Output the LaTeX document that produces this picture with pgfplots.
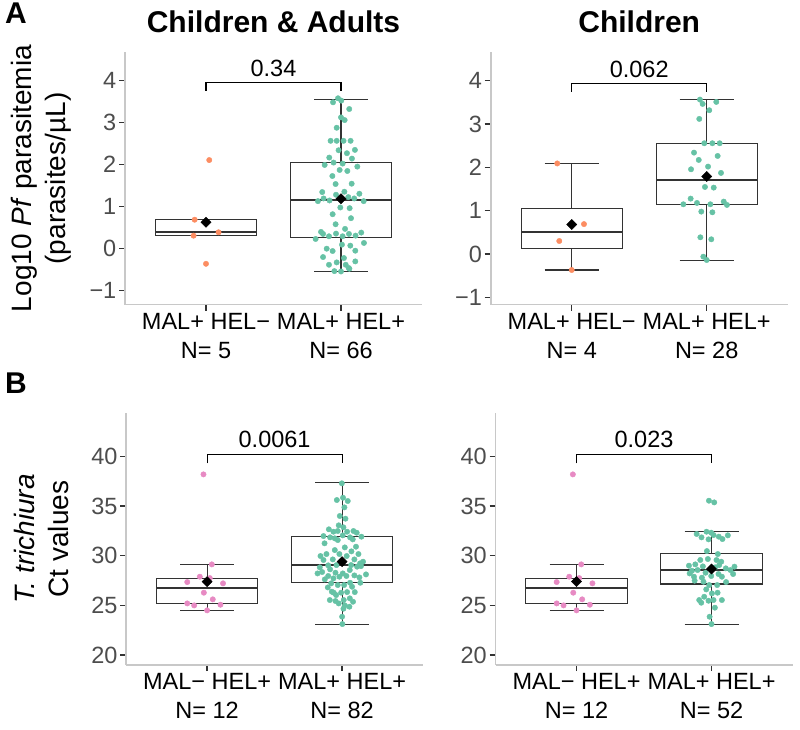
\documentclass[border=0pt]{standalone}
\usepackage{pgfplots}
\pgfplotsset{compat=1.18}
\usepgfplotslibrary{statistics}
\usepackage{fontspec}
\setmainfont{Liberation Sans}
\definecolor{orangeC}{HTML}{FC8D62}
\definecolor{greenC}{HTML}{66C2A5}
\definecolor{pinkC}{HTML}{E78AC3}
\definecolor{axisgrey}{HTML}{C8C8C8}
\definecolor{boxcol}{HTML}{333333}
\definecolor{ticktxt}{HTML}{4D4D4D}
\pgfplotsset{
  panel/.style={
    scale only axis, width=297pt, height=252pt, xmin=0.4, xmax=2.6,
    axis x line*=bottom, axis y line*=left,
    axis line style={-, axisgrey, line width=1.8pt},
    tick style={boxcol, line width=1.3pt}, major tick length=6pt, tick align=outside,
    xtick={1,2}, clip=false,
    /pgf/number format/assume math mode=true,
    xticklabel style={font=\fontsize{23.5}{29}\selectfont, align=center, text=black, inner sep=2.5pt},
    yticklabel style={font=\fontsize{23.5}{26}\selectfont, text=ticktxt, inner sep=2.5pt},
    boxplot/draw direction=y,
    boxplot/every median/.style={line width=2pt},
  },
  bx/.style={draw=boxcol, fill=white, line width=1.1pt, solid},
  pts/.style={only marks, mark=*, mark size=2.7pt, color=#1, mark options={draw=none, fill=#1}},
  meanpt/.style={only marks, mark=square*, mark size=3.6pt, color=black, mark options={rotate=45, fill=black, draw=black}},
}
\begin{document}
\begin{tikzpicture}[x=1pt,y=1pt]
\path[use as bounding box] (0,0) rectangle (800,729);

% ---------------- A left ----------------
\begin{axis}[panel, at={(125pt,424.5pt)}, anchor=south west,
  ymin=-1.329, ymax=4.671, ytick={-1,0,1,2,3,4}, yticklabels={−1,0,1,2,3,4},
  xticklabels={{MAL+ HEL−\\N= 5},{MAL+ HEL+\\N= 66}}]
\addplot[bx, boxplot prepared={draw position=1, lower whisker=0.31, lower quartile=0.31, median=0.39, upper quartile=0.69, upper whisker=0.69, box extend=0.75, whisker extend=0.4}] coordinates {};
\addplot[bx, boxplot prepared={draw position=2, lower whisker=-0.54, lower quartile=0.26, median=1.15, upper quartile=2.05, upper whisker=3.56, box extend=0.75, whisker extend=0.4}] coordinates {};
\addplot[pts=orangeC] coordinates {(1.024,2.11) (0.916,0.69) (0.908,0.31) (1.093,0.39) (1.0,-0.36)};
\addplot[pts=greenC] coordinates {
(1.941,3.485) (1.978,3.581) (2.002,3.525) (2.061,3.325) (2.000,3.126) (2.027,3.062)
(1.968,2.879) (1.923,2.568) (1.968,2.568) (2.019,2.568) (2.071,2.568) (1.982,2.344)
(2.044,2.273) (2.103,2.352) (1.913,2.169) (1.945,2.050) (2.081,2.145) (1.879,1.994)
(2.012,2.026) (2.121,1.954) (1.990,1.874) (2.047,1.850) (1.936,1.730) (1.960,1.539)
(2.079,1.547) (1.861,1.348) (1.963,1.284) (2.025,1.356) (2.136,1.308) (1.829,1.132)
(1.871,1.196) (1.915,1.148) (2.054,1.228) (2.098,1.196) (2.168,1.132) (1.995,0.981)
(2.064,0.965) (1.938,0.821) (2.074,0.726) (1.960,0.582) (2.030,0.471) (1.852,0.399)
(1.867,0.351) (1.911,0.295) (1.812,0.231) (1.963,0.359) (2.012,0.295) (2.059,0.351)
(2.108,0.311) (2.150,0.383) (2.170,0.136) (1.894,0.000) (1.938,-0.056) (2.007,0.096)
(2.069,0.072) (2.106,-0.048) (1.867,-0.199) (1.911,-0.383) (1.968,-0.327) (2.022,-0.223)
(2.035,-0.383) (2.062,-0.478) (2.106,-0.303) (1.951,-0.534) (2.000,-0.542) (2.057,-0.460)};
\addplot[meanpt] coordinates {(1,0.63) (2,1.19)};
\draw[line width=1.1pt] (axis cs:1,3.76) -- (axis cs:1,3.96) -- (axis cs:2,3.96) -- (axis cs:2,3.76);
\node[font=\fontsize{23.5}{26}\selectfont] at (axis cs:1.5,4.29) {0.34};
\end{axis}

% ---------------- A right ----------------
\begin{axis}[panel, at={(490.7pt,424.5pt)}, anchor=south west,
  ymin=-1.166, ymax=4.651, ytick={-1,0,1,2,3,4}, yticklabels={−1,0,1,2,3,4},
  xticklabels={{MAL+ HEL−\\N= 4},{MAL+ HEL+\\N= 28}}]
\addplot[bx, boxplot prepared={draw position=1, lower whisker=-0.37, lower quartile=0.13, median=0.50, upper quartile=1.04, upper whisker=2.09, box extend=0.75, whisker extend=0.4}] coordinates {};
\addplot[bx, boxplot prepared={draw position=2, lower whisker=-0.14, lower quartile=1.14, median=1.71, upper quartile=2.56, upper whisker=3.56, box extend=0.75, whisker extend=0.4}] coordinates {};
\addplot[pts=orangeC] coordinates {(0.893,2.09) (1.091,0.69) (0.908,0.30) (1.0,-0.37)};
\addplot[pts=greenC] coordinates {
(1.950,3.564) (1.970,3.464) (2.071,3.510) (2.019,3.318) (1.945,3.118) (1.982,2.556)
(2.042,2.556) (2.096,2.556) (1.906,2.340) (2.081,2.263) (1.941,2.171) (2.010,2.017)
(1.884,1.955) (2.106,1.871) (1.987,1.547) (2.052,1.532) (1.881,1.278) (1.827,1.147)
(1.928,1.178) (2.027,1.147) (2.126,1.209) (2.150,1.132) (1.960,0.978) (2.042,0.962)
(1.953,0.385) (2.034,0.339) (1.975,-0.062) (2.000,-0.139)};
\addplot[meanpt] coordinates {(1,0.68) (2,1.79)};
\draw[line width=1.1pt] (axis cs:1,3.75) -- (axis cs:1,3.94) -- (axis cs:2,3.94) -- (axis cs:2,3.75);
\node[font=\fontsize{23.5}{26}\selectfont] at (axis cs:1.5,4.26) {0.062};
\end{axis}

% ---------------- B left ----------------
\begin{axis}[panel, at={(126.1pt,64pt)}, anchor=south west,
  ymin=19.0, ymax=44.37, ytick={20,25,30,35,40}, yticklabels={20,25,30,35,40},
  xticklabels={{MAL− HEL+\\N= 12},{MAL+ HEL+\\N= 82}}]
\addplot[bx, boxplot prepared={draw position=1, lower whisker=24.50, lower quartile=25.20, median=26.71, upper quartile=27.69, upper whisker=29.13, box extend=0.75, whisker extend=0.4}] coordinates {};
\addplot[bx, boxplot prepared={draw position=2, lower whisker=23.10, lower quartile=27.35, median=29.03, upper quartile=31.92, upper whisker=37.33, box extend=0.75, whisker extend=0.4}] coordinates {};
\addplot[pts=pinkC] coordinates {
(0.973,38.19) (1.035,29.13) (0.946,27.89) (1.020,27.75) (0.853,27.35) (1.118,27.22)
(0.976,26.28) (1.042,25.61) (0.853,25.20) (0.904,25.00) (1.099,25.07) (1.000,24.50)};
\addplot[pts=greenC] coordinates {
(1.998,37.29) (1.961,35.61) (2.007,35.84) (2.042,35.51) (2.017,34.87) (1.983,34.00)
(2.025,33.73) (1.975,33.06) (2.010,32.86) (1.902,32.66) (1.936,32.42) (1.968,32.49)
(2.037,32.42) (2.084,32.49) (1.862,31.98) (1.911,31.85) (1.946,31.75) (2.005,32.05)
(2.059,31.85) (2.108,32.32) (2.143,31.92) (2.079,31.65) (1.968,31.58) (1.946,30.57)
(2.020,30.84) (2.069,30.44) (1.884,30.17) (1.980,30.17) (1.931,29.63) (2.034,29.97)
(2.091,29.63) (1.862,29.57) (2.133,29.23) (2.155,29.40) (2.067,29.06) (1.835,28.83)
(1.897,29.03) (1.958,29.06) (1.911,28.63) (2.111,28.90) (2.140,28.96) (1.818,28.22)
(1.852,28.36) (1.951,28.29) (2.005,28.22) (2.057,28.56) (2.177,28.12) (1.897,27.96)
(1.980,27.89) (2.032,27.96) (2.091,28.02) (2.128,27.82) (1.872,27.62) (1.936,27.72)
(1.919,27.22) (2.059,27.28) (1.968,27.05) (2.015,27.05) (1.894,26.81) (2.074,26.88)
(1.938,26.28) (1.993,26.28) (2.037,26.34) (2.094,26.34) (1.909,25.54) (1.951,25.44)
(2.012,25.54) (2.057,25.71) (2.081,25.37) (1.975,25.20) (2.020,25.00) (2.010,24.67)
(2.000,23.86) (2.002,23.12) (1.870,31.25) (2.103,30.91) (1.840,29.97) (2.121,30.17)
(1.924,26.38) (2.054,24.87) (1.956,26.04) (2.135,27.28)};
\addplot[meanpt] coordinates {(1,27.40) (2,29.40)};
\draw[line width=1.1pt] (axis cs:1,39.3) -- (axis cs:1,40.2) -- (axis cs:2,40.2) -- (axis cs:2,39.3);
\node[font=\fontsize{23.5}{26}\selectfont] at (axis cs:1.5,41.75) {0.0061};
\end{axis}

% ---------------- B right ----------------
\begin{axis}[panel, at={(495.5pt,64pt)}, anchor=south west,
  ymin=19.0, ymax=44.37, ytick={20,25,30,35,40}, yticklabels={20,25,30,35,40},
  xticklabels={{MAL− HEL+\\N= 12},{MAL+ HEL+\\N= 52}}]
\addplot[bx, boxplot prepared={draw position=1, lower whisker=24.50, lower quartile=25.20, median=26.71, upper quartile=27.69, upper whisker=29.13, box extend=0.75, whisker extend=0.4}] coordinates {};
\addplot[bx, boxplot prepared={draw position=2, lower whisker=23.09, lower quartile=27.15, median=28.56, upper quartile=30.20, upper whisker=32.42, box extend=0.75, whisker extend=0.4}] coordinates {};
\addplot[pts=pinkC] coordinates {
(0.973,38.19) (1.035,29.13) (0.946,27.89) (1.020,27.75) (0.853,27.35) (1.118,27.22)
(0.976,26.28) (1.042,25.61) (0.853,25.20) (0.904,25.00) (1.099,25.07) (1.000,24.50)};
\addplot[pts=greenC] coordinates {
(1.981,35.54) (2.020,35.37) (1.890,32.19) (1.926,31.85) (1.963,32.42) (1.998,32.32)
(1.978,31.65) (2.015,32.08) (2.054,31.92) (2.081,31.68) (2.121,32.05) (1.966,30.47)
(2.047,30.17) (1.917,29.57) (1.973,29.67) (2.037,29.57) (2.072,29.40) (1.880,29.13)
(1.833,29.00) (1.936,28.93) (1.897,28.56) (2.027,28.83) (2.106,28.73) (2.140,28.56)
(2.170,28.90) (1.838,28.22) (1.956,28.29) (2.052,28.16) (2.160,28.16) (1.870,27.89)
(1.929,27.79) (1.998,27.96) (2.077,27.89) (1.875,27.49) (2.108,27.35) (1.983,27.05)
(2.042,27.05) (1.961,26.61) (2.045,26.28) (1.909,25.54) (1.924,25.27) (1.978,25.47)
(2.015,25.54) (2.077,25.54) (2.025,24.77) (1.986,23.86) (2.000,23.12) (1.941,27.38)
(2.057,29.06) (1.855,28.49) (2.003,26.21) (1.946,25.87)};
\addplot[meanpt] coordinates {(1,27.40) (2,28.66)};
\draw[line width=1.1pt] (axis cs:1,39.3) -- (axis cs:1,40.2) -- (axis cs:2,40.2) -- (axis cs:2,39.3);
\node[font=\fontsize{23.5}{26}\selectfont] at (axis cs:1.5,41.75) {0.023};
\end{axis}

% ---------------- titles and labels ----------------
\node[font=\fontsize{30}{36}\selectfont\bfseries] at (273.5,707) {Children \& Adults};
\node[font=\fontsize{30}{36}\selectfont\bfseries] at (639.2,707) {Children};
\node[font=\fontsize{30}{36}\selectfont\bfseries] at (16,716) {A};
\node[font=\fontsize{30}{36}\selectfont\bfseries] at (16,346) {B};
\node[rotate=90, align=center, font=\fontsize{28}{34}\selectfont] at (41,550.5) {Log10 \textit{Pf} parasitemia\\(parasites/µL)};
\node[rotate=90, align=center, font=\fontsize{28}{34}\selectfont] at (41,190) {\textit{T. trichiura}\\Ct values};
\end{tikzpicture}
\end{document}
